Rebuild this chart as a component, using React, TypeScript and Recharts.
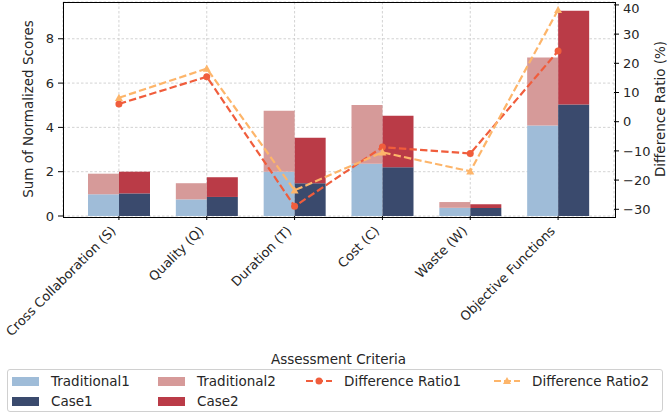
import React from 'react';
import {
  ComposedChart,
  Bar,
  Line,
  XAxis,
  YAxis,
  CartesianGrid,
} from 'recharts';

// ---------------------------------------------------------------------------
// Data
// ---------------------------------------------------------------------------

const CATEGORIES = [
  'Cross Collaboration (S)',
  'Quality (Q)',
  'Duration (T)',
  'Cost (C)',
  'Waste (W)',
  'Objective Functions',
];
const TRADITIONAL1 = [0.98, 0.75, 2.0, 2.36, 0.37, 4.08];
const TRADITIONAL2 = [0.93, 0.73, 2.75, 2.65, 0.26, 3.07];
const CASE1 = [1.02, 0.86, 1.48, 2.2, 0.36, 5.03];
const CASE2 = [0.98, 0.89, 2.05, 2.33, 0.17, 4.23];
const RATIO1 = [6.1, 15.4, -29.0, -8.7, -10.9, 24.2];
const RATIO2 = [8.2, 18.2, -23.5, -10.5, -17.0, 38.3];

const LEFT_TICKS = [0, 2, 4, 6, 8];
const RIGHT_TICKS = [-30, -20, -10, 0, 10, 20, 30, 40];

const rows = CATEGORIES.map((name, i) => ({
  name,
  trad1: TRADITIONAL1[i],
  trad2: TRADITIONAL2[i],
  case1: CASE1[i],
  case2: CASE2[i],
  ratio1: RATIO1[i],
  ratio2: RATIO2[i],
}));

// ---------------------------------------------------------------------------
// Styling
// ---------------------------------------------------------------------------

const FONT = '"DejaVu Sans", sans-serif';
const TEXT = '#262626';
const LABEL_SIZE = 13.5;
const C_TRAD1 = '#9fbcd8';
const C_CASE1 = '#3a4a6d';
const C_TRAD2 = '#d69a99';
const C_CASE2 = '#ba3b47';
const C_R1 = '#f05d3c';
const C_R2 = '#fdb56a';

const PLOT = { left: 63, top: 2, right: 614, bottom: 216 };

const tickStyle = { fontSize: 13, fill: TEXT, fontFamily: FONT };

// ---------------------------------------------------------------------------
// Custom pieces
// ---------------------------------------------------------------------------

function XTick({ x, y, payload }: any) {
  const ax = x - 2.2;
  const ay = y + 8.7;
  return (
    <text
      x={ax}
      y={ay}
      transform={`rotate(-45 ${ax} ${ay})`}
      textAnchor="end"
      fontSize={13}
      fill={TEXT}
      fontFamily={FONT}
    >
      {payload.value}
    </text>
  );
}

function TriangleDot({ cx, cy, fill }: any) {
  if (cx == null || cy == null) return null;
  const s = 4;
  return (
    <path
      d={`M${cx},${cy - s} L${cx + s},${cy + s * 0.8} L${cx - s},${cy + s * 0.8} Z`}
      fill={fill}
    />
  );
}

function CircleDot({ cx, cy, fill }: any) {
  if (cx == null || cy == null) return null;
  return <circle cx={cx} cy={cy} r={3.5} fill={fill} />;
}

function Patch({ color }: { color: string }) {
  return <span style={{ width: 27, height: 9, background: color, display: 'inline-block' }} />;
}

function LineHandle({ color, triangle }: { color: string; triangle?: boolean }) {
  return (
    <svg width={26} height={10} style={{ display: 'block' }}>
      <line x1={0} y1={5} x2={26} y2={5} stroke={color} strokeWidth={2} strokeDasharray="7 3" />
      {triangle ? (
        <path d="M13,1 L17,8 L9,8 Z" fill={color} />
      ) : (
        <circle cx={13} cy={5} r={3.5} fill={color} />
      )}
    </svg>
  );
}

function LegendItem({ handle, label }: { handle: React.ReactNode; label: string }) {
  return (
    <div style={{ display: 'flex', alignItems: 'center', gap: 12, height: 20 }}>
      {handle}
      <span>{label}</span>
    </div>
  );
}

// ---------------------------------------------------------------------------
// Component
// ---------------------------------------------------------------------------

export default function App() {
  return (
    <div
      style={{
        position: 'absolute',
        left: 0,
        top: 0,
        width: 669,
        height: 414,
        background: '#fff',
        fontFamily: FONT,
      }}
    >
      <ComposedChart
        width={669}
        height={366}
        data={rows}
        margin={{ top: PLOT.top, right: 0, bottom: 0, left: 0 }}
        barGap={0}
      >
        <CartesianGrid
          yAxisId="left"
          stroke="#c8c8c8"
          strokeDasharray="2.5 2"
          strokeWidth={0.8}
        />
        <XAxis
          dataKey="name"
          height={150}
          padding={{ left: 12, right: 12 }}
          axisLine={false}
          tickLine={{ stroke: '#000' }}
          tickSize={4}
          tickMargin={3}
          interval={0}
          tick={<XTick />}
          label={({ viewBox }: any) => (
            <text
              x={viewBox.x + viewBox.width / 2}
              y={364}
              textAnchor="middle"
              fontSize={LABEL_SIZE}
              fill={TEXT}
              fontFamily={FONT}
            >
              Assessment Criteria
            </text>
          )}
        />
        <YAxis
          yAxisId="left"
          width={63}
          domain={[0, 9.66]}
          ticks={LEFT_TICKS}
          axisLine={false}
          tickLine={{ stroke: '#000' }}
          tickSize={5}
          tickMargin={4}
          tick={tickStyle}
          label={() => (
            <text
              x={29}
              y={109}
              transform="rotate(-90 29 109)"
              textAnchor="middle"
              dominantBaseline="middle"
              fontSize={LABEL_SIZE}
              fill={TEXT}
              fontFamily={FONT}
            >
              Sum of Normalized Scores
            </text>
          )}
        />
        <YAxis
          yAxisId="right"
          orientation="right"
          width={55}
          domain={[-32.3, 41]}
          ticks={RIGHT_TICKS}
          axisLine={false}
          tickLine={{ stroke: '#000' }}
          tickSize={5}
          tickMargin={4}
          tick={tickStyle}
          tickFormatter={(v: number) => String(v).replace('-', '\u2212')}
          label={() => (
            <text
              x={661}
              y={109}
              transform="rotate(-90 661 109)"
              textAnchor="middle"
              dominantBaseline="middle"
              fontSize={LABEL_SIZE}
              fill={TEXT}
              fontFamily={FONT}
            >
              Difference Ratio (%)
            </text>
          )}
        />
        <Bar yAxisId="left" dataKey="trad1" stackId="trad" fill={C_TRAD1} barSize={31} isAnimationActive={false} />
        <Bar yAxisId="left" dataKey="trad2" stackId="trad" fill={C_TRAD2} barSize={31} isAnimationActive={false} />
        <Bar yAxisId="left" dataKey="case1" stackId="case" fill={C_CASE1} barSize={31} isAnimationActive={false} />
        <Bar yAxisId="left" dataKey="case2" stackId="case" fill={C_CASE2} barSize={31} isAnimationActive={false} />
        <Line
          yAxisId="right"
          dataKey="ratio1"
          type="linear"
          stroke={C_R1}
          strokeWidth={2.2}
          strokeDasharray="7.4 3.2"
          dot={<CircleDot fill={C_R1} />}
          activeDot={false}
          isAnimationActive={false}
        />
        <Line
          yAxisId="right"
          dataKey="ratio2"
          type="linear"
          stroke={C_R2}
          strokeWidth={2.2}
          strokeDasharray="7.4 3.2"
          dot={<TriangleDot fill={C_R2} />}
          activeDot={false}
          isAnimationActive={false}
        />
      </ComposedChart>

      {/* Plot frame */}
      <div
        style={{
          position: 'absolute',
          left: PLOT.left - 0.5,
          top: PLOT.top - 0.5,
          width: PLOT.right - PLOT.left,
          height: PLOT.bottom - PLOT.top,
          border: '1px solid #000',
          pointerEvents: 'none',
        }}
      />

      {/* Legend */}
      <div
        style={{
          position: 'absolute',
          left: 7,
          top: 369,
          width: 656,
          height: 43,
          border: '1px solid #d0d0d0',
          borderRadius: 3,
          boxSizing: 'border-box',
          padding: '1px 0 0 4px',
          display: 'grid',
          gridTemplateColumns: '146px 148px 188px auto',
          gridTemplateRows: '20px 20px',
          fontSize: LABEL_SIZE,
          color: TEXT,
        }}
      >
        <LegendItem handle={<Patch color={C_TRAD1} />} label="Traditional1" />
        <LegendItem handle={<Patch color={C_TRAD2} />} label="Traditional2" />
        <LegendItem handle={<LineHandle color={C_R1} />} label="Difference Ratio1" />
        <LegendItem handle={<LineHandle color={C_R2} triangle />} label="Difference Ratio2" />
        <LegendItem handle={<Patch color={C_CASE1} />} label="Case1" />
        <LegendItem handle={<Patch color={C_CASE2} />} label="Case2" />
      </div>
    </div>
  );
}
